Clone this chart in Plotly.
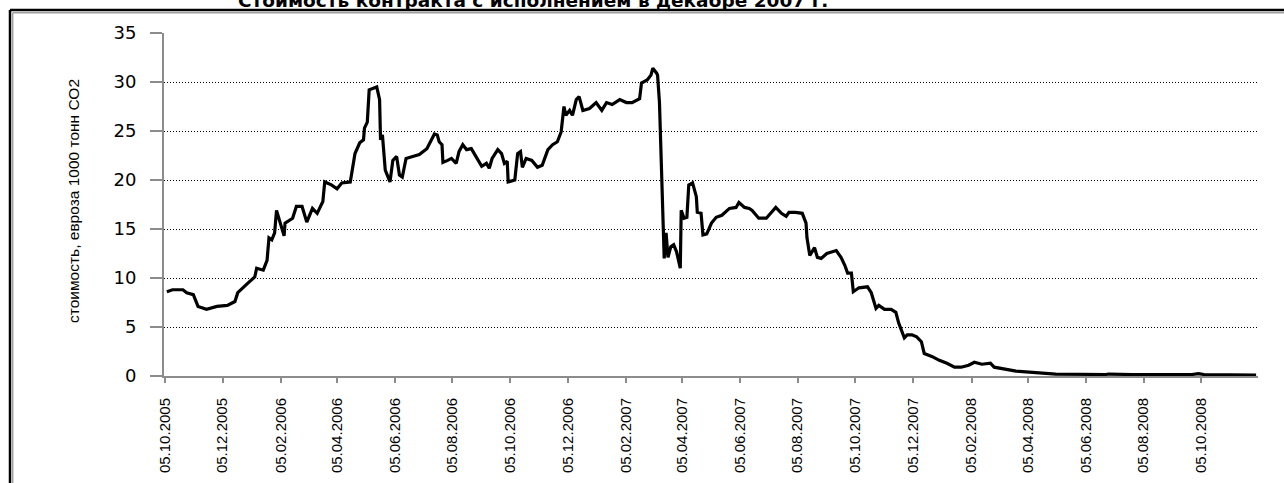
import plotly.graph_objects as go

dates = [
"2005-10-07","2005-10-13","2005-10-24","2005-10-28","2005-11-04","2005-11-09","2005-11-18","2005-11-29",
"2005-12-10","2005-12-18","2005-12-21","2005-12-26","2006-01-01","2006-01-08","2006-01-10","2006-01-17",
"2006-01-21","2006-01-23","2006-01-26","2006-01-29","2006-01-31","2006-02-04","2006-02-08","2006-02-09",
"2006-02-17","2006-02-21","2006-02-27","2006-03-04","2006-03-10","2006-03-15","2006-03-21","2006-03-23",
"2006-03-30","2006-04-05","2006-04-10","2006-04-19","2006-04-24","2006-04-29","2006-05-03","2006-05-04",
"2006-05-07","2006-05-09","2006-05-17","2006-05-20","2006-05-21","2006-05-23","2006-05-26","2006-05-31",
"2006-06-03","2006-06-07","2006-06-10","2006-06-13","2006-06-17","2006-06-24","2006-07-01","2006-07-09",
"2006-07-14","2006-07-17","2006-07-20","2006-07-22","2006-07-25","2006-07-26","2006-07-31","2006-08-04",
"2006-08-09","2006-08-12","2006-08-16","2006-08-20","2006-08-25","2006-08-30","2006-09-05","2006-09-10",
"2006-09-13","2006-09-16","2006-09-22","2006-09-26","2006-09-29","2006-10-02","2006-10-03","2006-10-10",
"2006-10-13","2006-10-16","2006-10-18","2006-10-22","2006-10-28","2006-11-03","2006-11-08","2006-11-14",
"2006-11-19","2006-11-24","2006-11-28","2006-12-01","2006-12-03","2006-12-07","2006-12-10","2006-12-14",
"2006-12-17","2006-12-21","2006-12-28","2007-01-04","2007-01-10","2007-01-15","2007-01-21","2007-01-29",
"2007-02-05","2007-02-11","2007-02-19","2007-02-21","2007-02-27","2007-03-03","2007-03-05","2007-03-09",
"2007-03-10","2007-03-12","2007-03-14","2007-03-15","2007-03-16","2007-03-17","2007-03-19","2007-03-21",
"2007-03-24","2007-03-27","2007-03-30","2007-04-03","2007-04-04","2007-04-07","2007-04-10","2007-04-12",
"2007-04-16","2007-04-20","2007-04-21","2007-04-25","2007-04-27","2007-05-01","2007-05-06","2007-05-11",
"2007-05-17","2007-05-25","2007-06-01","2007-06-04","2007-06-10","2007-06-15","2007-06-18","2007-06-25",
"2007-07-03","2007-07-08","2007-07-13","2007-07-19","2007-07-24","2007-07-27","2007-08-03","2007-08-10",
"2007-08-14","2007-08-15","2007-08-18","2007-08-23","2007-08-26","2007-08-30","2007-09-05","2007-09-15",
"2007-09-20","2007-09-24","2007-09-27","2007-10-01","2007-10-03","2007-10-09","2007-10-18","2007-10-22",
"2007-10-27","2007-10-30","2007-11-05","2007-11-12","2007-11-17","2007-11-20","2007-11-26","2007-11-29",
"2007-12-04","2007-12-09","2007-12-14","2007-12-17","2007-12-25","2008-01-02","2008-01-10","2008-01-18",
"2008-01-25","2008-02-02","2008-02-08","2008-02-16","2008-02-25","2008-02-29","2008-03-10","2008-03-23",
"2008-04-06","2008-04-16","2008-05-04","2008-06-26","2008-06-29","2008-07-24","2008-09-25","2008-10-02",
"2008-10-08","2008-12-02",
]

prices = [
8.6, 8.8, 8.8, 8.5, 8.3, 7.1, 6.8, 7.1,
7.2, 7.6, 8.5, 9.0, 9.5, 10.1, 11.0, 10.8,
11.8, 14.1, 13.9, 14.6, 16.9, 15.6, 14.3, 15.6,
16.1, 17.3, 17.3, 15.7, 17.1, 16.6, 17.8, 19.8,
19.5, 19.1, 19.7, 19.8, 22.7, 23.8, 24.1, 25.3,
25.9, 29.2, 29.5, 28.2, 24.1, 24.6, 21.0, 19.8,
22.0, 22.4, 20.5, 20.3, 22.2, 22.4, 22.6, 23.2,
24.1, 24.7, 24.6, 23.9, 23.6, 21.8, 22.0, 22.2,
21.7, 22.9, 23.6, 23.1, 23.2, 22.4, 21.4, 21.7,
21.2, 22.2, 23.1, 22.7, 21.7, 21.9, 19.8, 20.0,
22.7, 22.9, 21.3, 22.2, 22.0, 21.3, 21.5, 23.1,
23.6, 23.9, 24.9, 27.5, 26.6, 27.1, 26.6, 28.2,
28.5, 27.1, 27.3, 27.9, 27.1, 27.9, 27.7, 28.2,
27.9, 27.9, 28.3, 29.9, 30.2, 30.7, 31.4, 30.9,
30.7, 27.9, 22.0, 16.9, 13.9, 12.0, 14.6, 12.1,
13.2, 13.4, 12.7, 11.0, 16.9, 16.1, 16.2, 19.5,
19.7, 18.3, 16.7, 16.6, 14.4, 14.5, 15.6, 16.2,
16.4, 17.1, 17.2, 17.7, 17.2, 17.1, 16.9, 16.1,
16.1, 16.6, 17.2, 16.6, 16.3, 16.7, 16.7, 16.6,
15.6, 14.1, 12.3, 13.1, 12.1, 12.0, 12.5, 12.8,
12.1, 11.3, 10.5, 10.5, 8.6, 9.0, 9.1, 8.5,
6.9, 7.2, 6.8, 6.8, 6.5, 5.4, 3.9, 4.2,
4.2, 4.0, 3.5, 2.3, 2.0, 1.6, 1.3, 0.9,
0.9, 1.1, 1.4, 1.2, 1.3, 0.9, 0.7, 0.5,
0.4, 0.35, 0.2, 0.15, 0.2, 0.15, 0.15, 0.25,
0.15, 0.1,
]

tick_dates = ["2005-10-05","2005-12-05","2006-02-05","2006-04-05","2006-06-05","2006-08-05",
              "2006-10-05","2006-12-05","2007-02-05","2007-04-05","2007-06-05","2007-08-05",
              "2007-10-05","2007-12-05","2008-02-05","2008-04-05","2008-06-05","2008-08-05",
              "2008-10-05"]
tick_labels = ["05.10.2005","05.12.2005","05.02.2006","05.04.2006","05.06.2006","05.08.2006",
               "05.10.2006","05.12.2006","05.02.2007","05.04.2007","05.06.2007","05.08.2007",
               "05.10.2007","05.12.2007","05.02.2008","05.04.2008","05.06.2008","05.08.2008",
               "05.10.2008"]
y_ticks = [0, 5, 10, 15, 20, 25, 30, 35]

title_text = "Стоимость контракта с исполнением в декабре 2007 г."
y_title = "стоимость, евроза 1000 тонн СО2"

W, H = 1284, 483
ML, MR, MT, MB = 164, 26, 33, 107
PW, PH = W - ML - MR, H - MT - MB

def px(x):
    return (x - ML) / PW

def py(y):
    return (H - MB - y) / PH

arial = "Liberation Sans, Arial, sans-serif"

fig = go.Figure()
fig.add_trace(go.Scatter(x=dates, y=prices, mode="lines",
                         line=dict(color="black", width=3.2), showlegend=False,
                         hoverinfo="x+y"))

fig.update_layout(
    width=W, height=H,
    margin=dict(l=ML, r=MR, t=MT, b=MB, autoexpand=False),
    paper_bgcolor="white", plot_bgcolor="white",
    xaxis=dict(
        type="date", range=["2005-10-04", "2008-12-04"], automargin=False,
        tickmode="array", tickvals=tick_dates, ticktext=tick_labels,
        tickangle=-90, tickfont=dict(family=arial, size=15, color="black"),
        ticks="outside", ticklen=5, tickwidth=2, tickcolor="#8c8c8c",
        showline=True, linecolor="#8c8c8c", linewidth=2,
        showgrid=False, zeroline=False, ticklabelstandoff=9,
    ),
    yaxis=dict(
        range=[0, 35], tickmode="array", tickvals=y_ticks, automargin=False,
        tickfont=dict(family="DejaVu Sans, sans-serif", size=18, color="black"),
        ticks="outside", ticklen=12, tickwidth=2, tickcolor="#8c8c8c",
        showline=True, linecolor="#8c8c8c", linewidth=2,
        showgrid=True, gridcolor="black", gridwidth=1, griddash="1px,2px",
        zeroline=False, ticklabelstandoff=10,
    ),
)

fig.add_annotation(text=y_title, xref="paper", yref="paper",
                   x=px(73), y=py(201), xanchor="center", yanchor="middle",
                   textangle=-90, showarrow=False,
                   font=dict(family=arial, size=15.5, color="black"))

fig.add_annotation(text="<b>" + title_text + "</b>", xref="paper", yref="paper",
                   x=px(533), y=py(1), xanchor="center", yanchor="middle",
                   showarrow=False,
                   font=dict(family="DejaVu Sans, sans-serif", size=18.5, color="black"))

# chart frame (double border)
fig.add_shape(type="line", xref="paper", yref="paper",
              x0=px(10), x1=px(1290), y0=py(10), y1=py(10),
              line=dict(color="black", width=2.5))
fig.add_shape(type="line", xref="paper", yref="paper",
              x0=px(10), x1=px(10), y0=py(10), y1=py(490),
              line=dict(color="black", width=2.5))
fig.add_shape(type="line", xref="paper", yref="paper",
              x0=px(12.7), x1=px(1290), y0=py(12.7), y1=py(12.7),
              line=dict(color="#a0a0a0", width=1.5))
fig.add_shape(type="line", xref="paper", yref="paper",
              x0=px(12.7), x1=px(12.7), y0=py(12.7), y1=py(490),
              line=dict(color="#a0a0a0", width=1.5))

fig.write_html("out.html", config={"displayModeBar": False},
               post_script="document.body.style.margin='0';document.body.style.overflow='hidden';")
